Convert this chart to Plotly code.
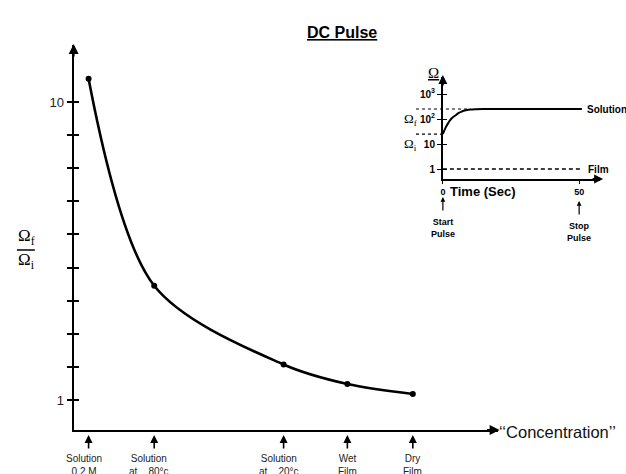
import math
import plotly.graph_objects as go

W, H = 626, 474

# ---------------- data ----------------
conc_pos = [0.88, 4.75, 12.38, 16.14, 20.0]
ratio = [10.7, 4.45, 2.07, 1.48, 1.18]
conc_labels = ["Solution<br>0.2 M", "Solution<br>at    80°c", "Solution<br>at    20°c", "Wet<br>Film", "Dry<br>Film"]
main_ticks = [1, 2, 3, 4, 5, 6, 7, 8, 9, 10]
main_ticktext = ["1", "", "", "", "", "", "", "", "", "10"]

time_s = [0, 1, 2, 3, 4, 5, 6, 7, 8, 10, 12, 15, 20, 30, 40, 51]
omega_solution = [25, 45, 70, 100, 125, 150, 178, 200, 220, 240, 248, 251, 251, 251, 251, 251]
time_film = [0, 51]
omega_film = [1, 1]
omega_i = 25
omega_f = 251
inset_ticks = [1, 10, 100, 1000]
inset_ticktext = ["1", "10", "10<sup>2</sup>", "10<sup>3</sup>"]
time_ticks = [0, 50]


def px(x):
    return x / W


def py(y):
    return 1 - y / H


SANS = "Liberation Sans, Arial, sans-serif"
SERIF = "Liberation Serif, Times New Roman, serif"

fig = go.Figure()

# main curve
fig.add_trace(go.Scatter(
    x=conc_pos, y=ratio, mode="lines+markers",
    line=dict(color="black", width=2.6, shape="spline", smoothing=0.9),
    marker=dict(color="black", size=6),
    xaxis="x", yaxis="y", showlegend=False, hoverinfo="skip"))
# dummy for overlay tick axis
fig.add_trace(go.Scatter(x=[conc_pos[0]], y=[ratio[0]], mode="markers",
                         marker=dict(opacity=0), xaxis="x", yaxis="y3",
                         showlegend=False, hoverinfo="skip"))

# inset curves
fig.add_trace(go.Scatter(
    x=time_s, y=omega_solution, mode="lines",
    line=dict(color="black", width=2, shape="spline"),
    xaxis="x2", yaxis="y2", showlegend=False, hoverinfo="skip"))
fig.add_trace(go.Scatter(
    x=time_film, y=omega_film, mode="lines",
    line=dict(color="black", width=1.6, dash="4px,3px"),
    xaxis="x2", yaxis="y2", showlegend=False, hoverinfo="skip"))
fig.add_trace(go.Scatter(x=[0], y=[1], mode="markers", marker=dict(opacity=0),
                         xaxis="x2", yaxis="y4", showlegend=False, hoverinfo="skip"))

main_yrange = [0.094, 11.72]
inset_yrange = [-0.4, 3.68]

fig.update_layout(
    width=W, height=H,
    margin=dict(l=0, r=0, t=0, b=0),
    paper_bgcolor="white", plot_bgcolor="white",
    font=dict(family=SANS, color="black"),
    xaxis=dict(domain=[px(71), px(497)], range=[0, 25], showgrid=False, zeroline=False,
               showline=True, linecolor="black", linewidth=2.2, ticks="",
               showticklabels=False, anchor="y"),
    yaxis=dict(domain=[py(430), py(45)], range=main_yrange, showgrid=False, zeroline=False,
               showline=True, linecolor="black", linewidth=2, ticks="outside",
               ticklen=5, tickwidth=1.5, tickcolor="black",
               tickvals=main_ticks, ticktext=main_ticktext,
               tickfont=dict(size=13, family=SANS, color="#222"), anchor="x"),
    yaxis3=dict(domain=[py(430), py(45)], range=main_yrange, overlaying="y", anchor="x",
                showgrid=False, zeroline=False, showline=False, ticks="inside",
                ticklen=5, tickwidth=1.5, tickcolor="black", tickvals=main_ticks,
                showticklabels=False),
    xaxis2=dict(domain=[px(442), px(600)], range=[0, 57.7], showgrid=False, zeroline=False,
                showline=True, linecolor="black", linewidth=1.8, ticks="outside",
                ticklen=3, tickwidth=1.2, tickcolor="black", tickvals=time_ticks,
                tickfont=dict(size=9, family=SANS, color="black", weight="bold"), anchor="y2"),
    yaxis2=dict(domain=[py(179), py(77)], type="log", range=inset_yrange, showgrid=False,
                zeroline=False, showline=True, linecolor="black", linewidth=1.8,
                ticks="outside", ticklen=4, tickwidth=1.2, tickcolor="black",
                tickvals=inset_ticks, ticktext=inset_ticktext,
                tickfont=dict(size=10, family=SANS, color="black", weight="bold"), anchor="x2"),
    yaxis4=dict(domain=[py(179), py(77)], type="log", range=inset_yrange, overlaying="y2",
                anchor="x2", showgrid=False, zeroline=False, showline=False, ticks="inside",
                ticklen=4, tickwidth=1.2, tickcolor="black", tickvals=inset_ticks,
                showticklabels=False),
)

ann = []
# title
ann.append(dict(text="<b><u>DC Pulse</u></b>", x=px(341), y=py(22), xref="paper", yref="paper",
                showarrow=False, font=dict(size=16, family=SANS)))
# y label fraction
ann.append(dict(text="Ω<sub>f</sub>", x=px(13), y=py(237), xref="paper", yref="paper",
                xanchor="left", showarrow=False, font=dict(size=17, family=SERIF)))
ann.append(dict(text="Ω<sub>i</sub>", x=px(13), y=py(261), xref="paper", yref="paper",
                xanchor="left", showarrow=False, font=dict(size=17, family=SERIF)))
# axis arrows
ann.append(dict(x=px(71), y=py(44), xref="paper", yref="paper", ax=0, ay=14, text="",
                showarrow=True, arrowhead=2, arrowsize=1, arrowwidth=2, arrowcolor="black"))
ann.append(dict(x=px(499), y=py(430), xref="paper", yref="paper", ax=-14, ay=0, text="",
                showarrow=True, arrowhead=2, arrowsize=1, arrowwidth=2, arrowcolor="black"))
ann.append(dict(x=px(442), y=py(75), xref="paper", yref="paper", ax=0, ay=12, text="",
                showarrow=True, arrowhead=2, arrowsize=1, arrowwidth=1.8, arrowcolor="black"))
ann.append(dict(x=px(603), y=py(179), xref="paper", yref="paper", ax=-12, ay=0, text="",
                showarrow=True, arrowhead=2, arrowsize=1, arrowwidth=1.8, arrowcolor="black"))
# concentration label
ann.append(dict(text="‘‘Concentration’’", x=px(496), y=py(443), xref="paper", yref="paper",
                xanchor="left", showarrow=False, font=dict(size=16.5, family=SANS, color="#111")))
# bottom category arrows and labels
for i, (xp, lab) in enumerate(zip(conc_pos, conc_labels)):
    ann.append(dict(x=xp, y=py(435), xref="x", yref="paper", ax=0, ay=15, text="",
                    showarrow=True, arrowhead=2, arrowsize=1, arrowwidth=1.6, arrowcolor="black"))
    ann.append(dict(x=xp, y=py(451), xref="x", yref="paper", text=lab, showarrow=False,
                    yanchor="top", xshift=-5 if i < 3 else 0,
                    font=dict(size=10, family=SANS, color="#222")))
# inset labels
ann.append(dict(text="<u>Ω</u>", x=px(440), y=py(63), xref="paper", yref="paper",
                showarrow=False, font=dict(size=15, family=SERIF)))
ann.append(dict(text="Ω<sub>f</sub>", x=px(401), y=py(109), xref="paper", yref="paper",
                xanchor="left", showarrow=False, font=dict(size=13, family=SERIF)))
ann.append(dict(text="Ω<sub>i</sub>", x=px(401), y=py(134), xref="paper", yref="paper",
                xanchor="left", showarrow=False, font=dict(size=13, family=SERIF)))
ann.append(dict(text="<b>Solution</b>", x=px(585), y=math.log10(omega_f), xref="paper", yref="y2",
                xanchor="left", showarrow=False, font=dict(size=10, family=SANS)))
ann.append(dict(text="<b>Film</b>", x=px(586), y=math.log10(omega_film[0]), xref="paper", yref="y2",
                xanchor="left", showarrow=False, font=dict(size=10, family=SANS)))
ann.append(dict(text="<b>Time (Sec)</b>", x=px(517), y=py(192), xref="paper", yref="paper",
                showarrow=False, font=dict(size=13, family=SANS)))
ann.append(dict(x=0, y=py(197), xref="x2", yref="paper", ax=0, ay=15, text="",
                showarrow=True, arrowhead=2, arrowsize=0.8, arrowwidth=1.2, arrowcolor="black"))
ann.append(dict(x=50, y=py(201), xref="x2", yref="paper", ax=0, ay=15, text="",
                showarrow=True, arrowhead=2, arrowsize=0.8, arrowwidth=1.2, arrowcolor="black"))
ann.append(dict(text="<b>Start<br>Pulse</b>", x=0, y=py(215), xref="x2", yref="paper",
                yanchor="top", showarrow=False, font=dict(size=9, family=SANS)))
ann.append(dict(text="<b>Stop<br>Pulse</b>", x=50, y=py(219), xref="x2", yref="paper",
                yanchor="top", showarrow=False, font=dict(size=9, family=SANS)))
fig.update_layout(annotations=ann)

shapes = [
    dict(type="line", xref="paper", yref="paper", x0=px(14), x1=px(32), y0=py(250), y1=py(250),
         line=dict(color="black", width=1.5)),
    dict(type="line", xref="paper", yref="y2", x0=px(415), x1=px(467), y0=omega_f, y1=omega_f,
         line=dict(color="black", width=1.2, dash="3px,3px")),
    dict(type="line", xref="paper", yref="y2", x0=px(415), x1=px(442), y0=omega_i, y1=omega_i,
         line=dict(color="black", width=1.2, dash="3px,3px")),
]
fig.update_layout(shapes=shapes)

fig.write_html("out.html", config={"displayModeBar": False},
               post_script="document.body.style.margin='0';document.body.style.overflow='hidden';")
